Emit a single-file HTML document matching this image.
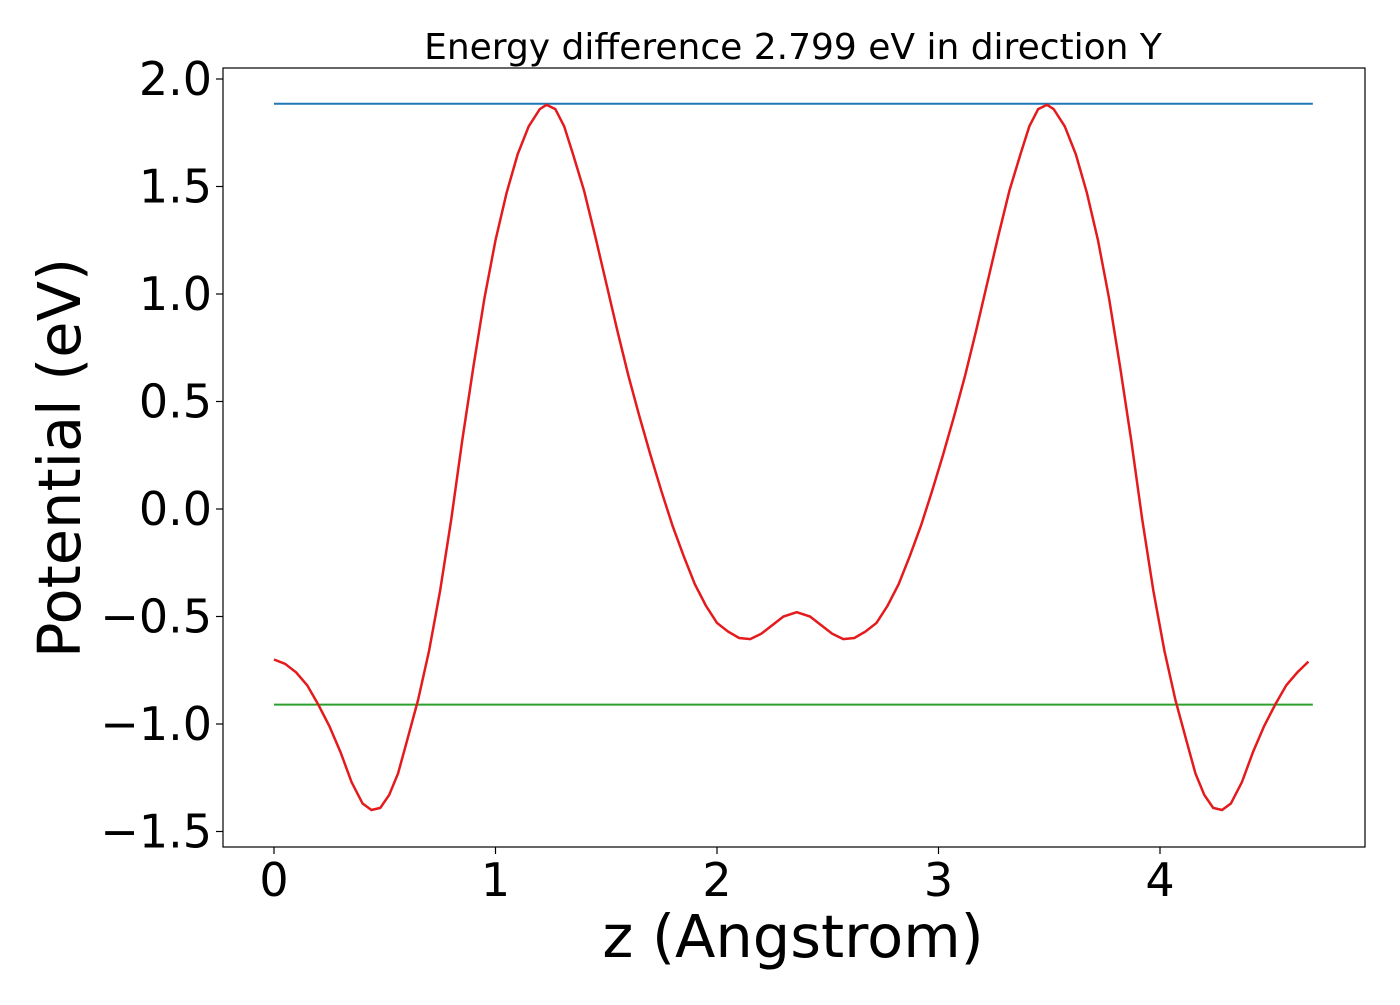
<!DOCTYPE html>
<html><head><meta charset="utf-8"><style>
body{margin:0;background:#fff;}
svg text{font-family:"DejaVu Sans","Liberation Sans",sans-serif;}
</style></head><body>
<svg id="chart" width="1400" height="1000" viewBox="0 0 1400 1000">
<rect width="1400" height="1000" fill="#fff"/>
<text x="793" y="59" font-size="36" text-anchor="middle">Energy difference 2.799 eV in direction Y</text>
<g id="plot"></g>
<rect x="223" y="68" width="1142" height="779" fill="none" stroke="#000" stroke-width="1.2"/>
<text x="793" y="957" font-size="59" text-anchor="middle">z (Angstrom)</text>
<text transform="translate(80,458) rotate(-90)" font-size="59" text-anchor="middle">Potential (eV)</text>
</svg>
<script>
const zLeft=[0,0.05,0.1,0.15,0.2,0.25,0.3,0.35,0.4,0.44,0.48,0.52,0.56,0.6,0.65,0.7,0.75,0.8,0.85,0.9,0.95,1.0,1.05,1.1,1.15,1.2,1.23,1.27,1.31,1.35,1.4,1.45,1.5,1.55,1.6,1.65,1.7,1.75,1.8,1.85,1.9,1.95,2.0,2.05,2.1,2.15,2.2,2.25,2.3,2.36];
const vLeft=[-0.70,-0.72,-0.76,-0.82,-0.91,-1.01,-1.13,-1.27,-1.37,-1.40,-1.39,-1.33,-1.23,-1.08,-0.89,-0.66,-0.38,-0.05,0.32,0.66,0.98,1.25,1.47,1.65,1.78,1.86,1.88,1.86,1.78,1.65,1.48,1.27,1.05,0.83,0.62,0.43,0.25,0.08,-0.08,-0.22,-0.35,-0.45,-0.53,-0.57,-0.60,-0.605,-0.58,-0.54,-0.50,-0.48];
const zRight=[2.42,2.47,2.52,2.57,2.62,2.67,2.72,2.77,2.82,2.87,2.92,2.97,3.02,3.07,3.12,3.17,3.22,3.27,3.32,3.37,3.41,3.45,3.49,3.52,3.57,3.62,3.67,3.72,3.77,3.82,3.87,3.92,3.97,4.02,4.07,4.12,4.16,4.2,4.24,4.28,4.32,4.37,4.42,4.47,4.52,4.57,4.62,4.67];
const vRight=[-0.50,-0.54,-0.58,-0.605,-0.60,-0.57,-0.53,-0.45,-0.35,-0.22,-0.08,0.08,0.25,0.43,0.62,0.83,1.05,1.27,1.48,1.65,1.78,1.86,1.88,1.86,1.78,1.65,1.47,1.25,0.98,0.66,0.32,-0.05,-0.38,-0.66,-0.89,-1.08,-1.23,-1.33,-1.39,-1.40,-1.37,-1.27,-1.13,-1.01,-0.91,-0.82,-0.76,-0.71];
const hLines=[1.885,-0.91];
const hColors=['#1f77b4','#2ca02c'];
const hNames=['upper-energy-line','lower-energy-line'];
const xTicks=[0,1,2,3,4];
const yTicks=[2.0,1.5,1.0,0.5,0.0,-0.5,-1.0,-1.5];
const xMin=0,xMax=4.69;
const X=z=>274+z*221.5;
const Y=v=>509-v*215;
const NS='http://www.w3.org/2000/svg';
const g=document.getElementById('plot');
function mk(t,a){const e=document.createElementNS(NS,t);for(const k in a)e.setAttribute(k,a[k]);g.appendChild(e);return e;}
xTicks.forEach(t=>{
 const l=mk('line',{x1:X(t),x2:X(t),y1:847,y2:854,stroke:'#000','stroke-width':1.2});
 
 
 const tx=mk('text',{x:X(t),y:896,'font-size':46,'text-anchor':'middle'});tx.textContent=String(t);
 
 
});
yTicks.forEach(t=>{
 const l=mk('line',{x1:216,x2:223,y1:Y(t),y2:Y(t),stroke:'#000','stroke-width':1.2});
 
 
 const tx=mk('text',{x:212,y:Y(t)+16,'font-size':46,'text-anchor':'end'});tx.textContent=(t<0?'\u2212':'')+Math.abs(t).toFixed(1);
 
 
});
hLines.forEach((v,i)=>{
 const l=mk('line',{x1:X(xMin),x2:X(xMax),y1:Y(v),y2:Y(v),stroke:hColors[i],'stroke-width':2});
 
 
});
const zs=zLeft.concat(zRight),vs=vLeft.concat(vRight);
const p=mk('polyline',{points:zs.map((z,i)=>X(z)+','+Y(vs[i])).join(' '),fill:'none',stroke:'#e41a1c','stroke-width':2.5});


</script>
</body></html>
